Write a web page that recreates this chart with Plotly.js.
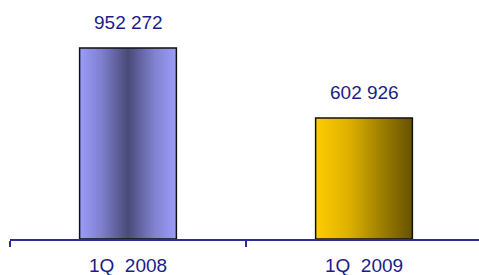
<!DOCTYPE html>
<html>
<head>
<meta charset="utf-8">
<script src="https://cdn.plot.ly/plotly-3.0.1.min.js"></script>
<style>
html,body{margin:0;padding:0;overflow:hidden;background:#fff;width:479px;height:275px;}
#chart{width:482px;height:275px;}
</style>
</head>
<body>
<div id="chart"></div>
<script>
const categories = ["1Q\u00a0\u00a02008", "1Q\u00a0\u00a02009"];
const values = [952272, 602926];
const labels = values.map(v => String(v).replace(/\B(?=(\d{3})+(?!\d))/g, " "));

const navy = "#1c1c8a";
const trace = {
  type: "bar",
  x: categories,
  y: values,
  marker: {color: ["#9999ff", "#ffcc00"], line: {color: "#111111", width: 1.5}},
  hoverinfo: "none"
};
const annotations = categories.map((c, i) => ({
  x: c, y: values[i], text: labels[i], showarrow: false,
  xref: "x", yref: "y", yanchor: "bottom", yshift: 13,
  font: {family: "Liberation Sans, Arial, sans-serif", size: 19, color: navy}
}));
const layout = {
  width: 482, height: 275,
  margin: {l: 10, r: 0, t: 0, b: 36},
  paper_bgcolor: "#fff", plot_bgcolor: "#fff",
  showlegend: false,
  bargap: 0.59,
  xaxis: {
    showline: true, linecolor: "#2b2b99", linewidth: 1.5,
    ticks: "outside", tickson: "boundaries", ticklen: 6, tickwidth: 1.5, tickcolor: "#2b2b99",
    ticklabelstandoff: 9,
    tickfont: {family: "Liberation Sans, Arial, sans-serif", size: 19, color: navy},
    showgrid: false, zeroline: false, fixedrange: true
  },
  yaxis: {
    range: [0, 1191600], visible: false, showgrid: false, zeroline: false, fixedrange: true
  },
  annotations: annotations
};
Plotly.newPlot("chart", [trace], layout, {displayModeBar: false, staticPlot: true}).then(gd => {
  const svg = gd.querySelector("svg.main-svg");
  const ns = "http://www.w3.org/2000/svg";
  let defs = svg.querySelector("defs");
  if (!defs) { defs = document.createElementNS(ns, "defs"); svg.insertBefore(defs, svg.firstChild); }
  const grads = [
    {id: "g1", stops: [[0, "#9c9cfa"], [0.22, "#8080d0"], [0.5, "#4a4a78"], [0.78, "#8282d2"], [1, "#9c9cfa"]]},
    {id: "g2", stops: [[0, "#ffcc00"], [0.35, "#dcb000"], [0.7, "#9a7c00"], [1, "#665200"]]}
  ];
  grads.forEach(g => {
    const lg = document.createElementNS(ns, "linearGradient");
    lg.setAttribute("id", g.id);
    lg.setAttribute("x1", "0"); lg.setAttribute("x2", "1");
    lg.setAttribute("y1", "0"); lg.setAttribute("y2", "0");
    g.stops.forEach(s => {
      const st = document.createElementNS(ns, "stop");
      st.setAttribute("offset", s[0]);
      st.setAttribute("stop-color", s[1]);
      lg.appendChild(st);
    });
    defs.appendChild(lg);
  });
  const paths = gd.querySelectorAll(".bars .point path");
  paths.forEach((p, i) => { p.style.fill = "url(#" + grads[i].id + ")"; });
});
</script>
</body>
</html>
